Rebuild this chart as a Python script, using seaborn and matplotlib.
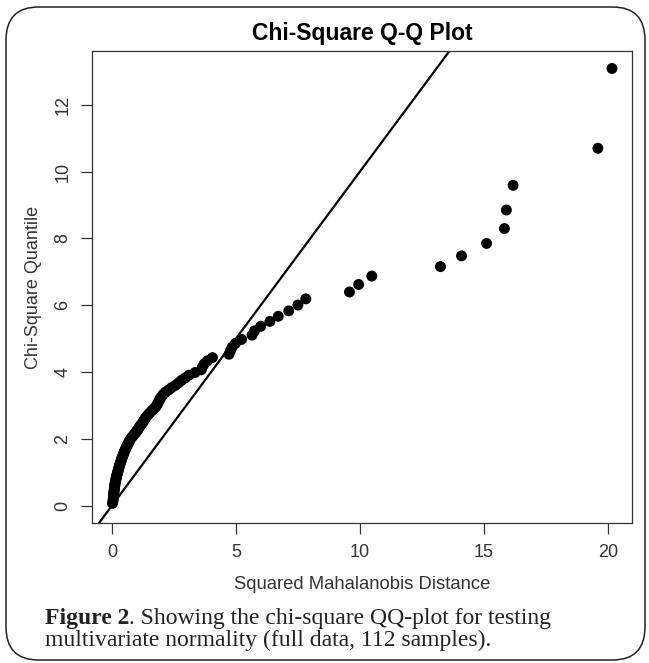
import matplotlib
matplotlib.use("Agg")
import matplotlib.pyplot as plt
from matplotlib.patches import FancyBboxPatch
import seaborn as sns
import pandas as pd

# Squared Mahalanobis distances (sorted)
mahal_d2 = [
    0.02, 0.04, 0.05, 0.06, 0.06, 0.07, 0.08, 0.08, 0.09, 0.10,
    0.10, 0.11, 0.12, 0.13, 0.14, 0.15, 0.16, 0.17, 0.18, 0.19,
    0.21, 0.22, 0.23, 0.25, 0.26, 0.27, 0.29, 0.30, 0.32, 0.33,
    0.35, 0.37, 0.38, 0.40, 0.42, 0.44, 0.46, 0.48, 0.50, 0.52,
    0.55, 0.57, 0.60, 0.62, 0.65, 0.68, 0.71, 0.74, 0.78, 0.83,
    0.88, 0.93, 0.98, 1.02, 1.06, 1.10, 1.14, 1.19, 1.24, 1.28,
    1.32, 1.36, 1.42, 1.48, 1.55, 1.62, 1.70, 1.78, 1.82, 1.86,
    1.90, 1.94, 2.00, 2.06, 2.15, 2.28, 2.40, 2.55, 2.68, 2.80,
    2.95, 3.10, 3.35, 3.60, 3.65, 3.72, 3.85, 4.05, 4.72, 4.78,
    4.85, 4.98, 5.23, 5.65, 5.75, 6.00, 6.37, 6.71, 7.13, 7.50,
    7.82, 9.58, 9.95, 10.48, 13.25, 14.10, 15.11, 15.83, 15.91, 16.18,
    19.60, 20.17,
]

# Chi-square (df = 3) quantiles
chisq_quantile = [
    0.066, 0.140, 0.200, 0.252, 0.301, 0.347, 0.392, 0.434, 0.476, 0.517,
    0.557, 0.597, 0.636, 0.675, 0.713, 0.751, 0.789, 0.826, 0.862, 0.899,
    0.936, 0.972, 1.008, 1.045, 1.083, 1.120, 1.157, 1.195, 1.232, 1.268,
    1.305, 1.343, 1.381, 1.420, 1.459, 1.497, 1.536, 1.576, 1.615, 1.654,
    1.695, 1.736, 1.776, 1.816, 1.857, 1.899, 1.941, 1.984, 2.028, 2.072,
    2.117, 2.160, 2.206, 2.250, 2.295, 2.343, 2.389, 2.438, 2.486, 2.534,
    2.585, 2.635, 2.688, 2.741, 2.796, 2.851, 2.907, 2.964, 3.021, 3.079,
    3.138, 3.200, 3.263, 3.326, 3.391, 3.459, 3.528, 3.598, 3.672, 3.746,
    3.822, 3.902, 3.983, 4.065, 4.151, 4.242, 4.334, 4.430, 4.531, 4.637,
    4.745, 4.858, 4.976, 5.103, 5.232, 5.369, 5.515, 5.668, 5.830, 6.005,
    6.190, 6.396, 6.621, 6.872, 7.155, 7.478, 7.850, 8.295, 8.850, 9.590,
    10.700, 13.090,
]

x_ticks = [0, 5, 10, 15, 20]
y_ticks = [0, 2, 4, 6, 8, 10, 12]

title = "Chi-Square Q-Q Plot"
x_label = "Squared Mahalanobis Distance"
y_label = "Chi-Square Quantile"
caption_bold = "Figure 2"
caption_line1 = ". Showing the chi-square QQ-plot for testing"
caption_line2 = "multivariate normality (full data, 112 samples)."

df = pd.DataFrame({"d2": mahal_d2, "q": chisq_quantile})

sns.set_theme(style="white")
plt.rcParams["font.family"] = ["Liberation Sans", "DejaVu Sans"]

W, H = 649, 663
fig = plt.figure(figsize=(W / 100, H / 100), dpi=100)
fig.patch.set_facecolor("white")

# rounded frame around the figure + caption
frame = FancyBboxPatch((6 / W, 3 / H), (W - 10) / W, (H - 10) / H,
                       boxstyle="round,pad=0,rounding_size=0.05",
                       transform=fig.transFigure, facecolor="none",
                       edgecolor="#222222", linewidth=1.1)
fig.patches.append(frame)

ax = fig.add_axes([92 / W, (H - 523) / H, (632 - 92) / W, (523 - 51) / H])
sns.scatterplot(data=df, x="d2", y="q", ax=ax, color="black", s=62,
                edgecolor="none", linewidth=0, legend=False)
ax.axline((0, 0), slope=1, color="black", linewidth=1.6)
ax.margins(0.04)

ax.set_xticks(x_ticks)
ax.set_yticks(y_ticks)
ax.set_xticklabels([str(t) for t in x_ticks])
ax.set_yticklabels([str(t) for t in y_ticks], rotation=90, va="center")
ax.tick_params(axis="both", direction="out", length=8, width=0.9,
               colors="#333333", labelsize=13, pad=7,
               bottom=True, left=True)
for s in ax.spines.values():
    s.set_color("#333333")
    s.set_linewidth(0.9)
ax.set_xlabel(x_label, fontsize=13.3, color="#333333", labelpad=11)
ax.set_ylabel(y_label, fontsize=13, color="#333333", labelpad=9)
ax.set_title(title, fontsize=16.5, fontweight="bold", color="black", pad=8)

# caption in serif, with bold lead
renderer = fig.canvas.get_renderer()
cap_font = ["Liberation Serif", "DejaVu Serif"]
cap_size = 17
t1 = fig.text(45 / W, 1 - 624 / H, caption_bold, fontsize=cap_size,
              fontweight="bold", family=cap_font, va="baseline", ha="left",
              color="#222222")
bb = t1.get_window_extent(renderer=renderer)
fig.text(bb.x1 / W, 1 - 624 / H, caption_line1, fontsize=cap_size,
         family=cap_font, va="baseline", ha="left", color="#222222")
fig.text(45 / W, 1 - 646 / H, caption_line2, fontsize=cap_size,
         family=cap_font, va="baseline", ha="left", color="#222222")

fig.savefig("out.png", dpi=100)
